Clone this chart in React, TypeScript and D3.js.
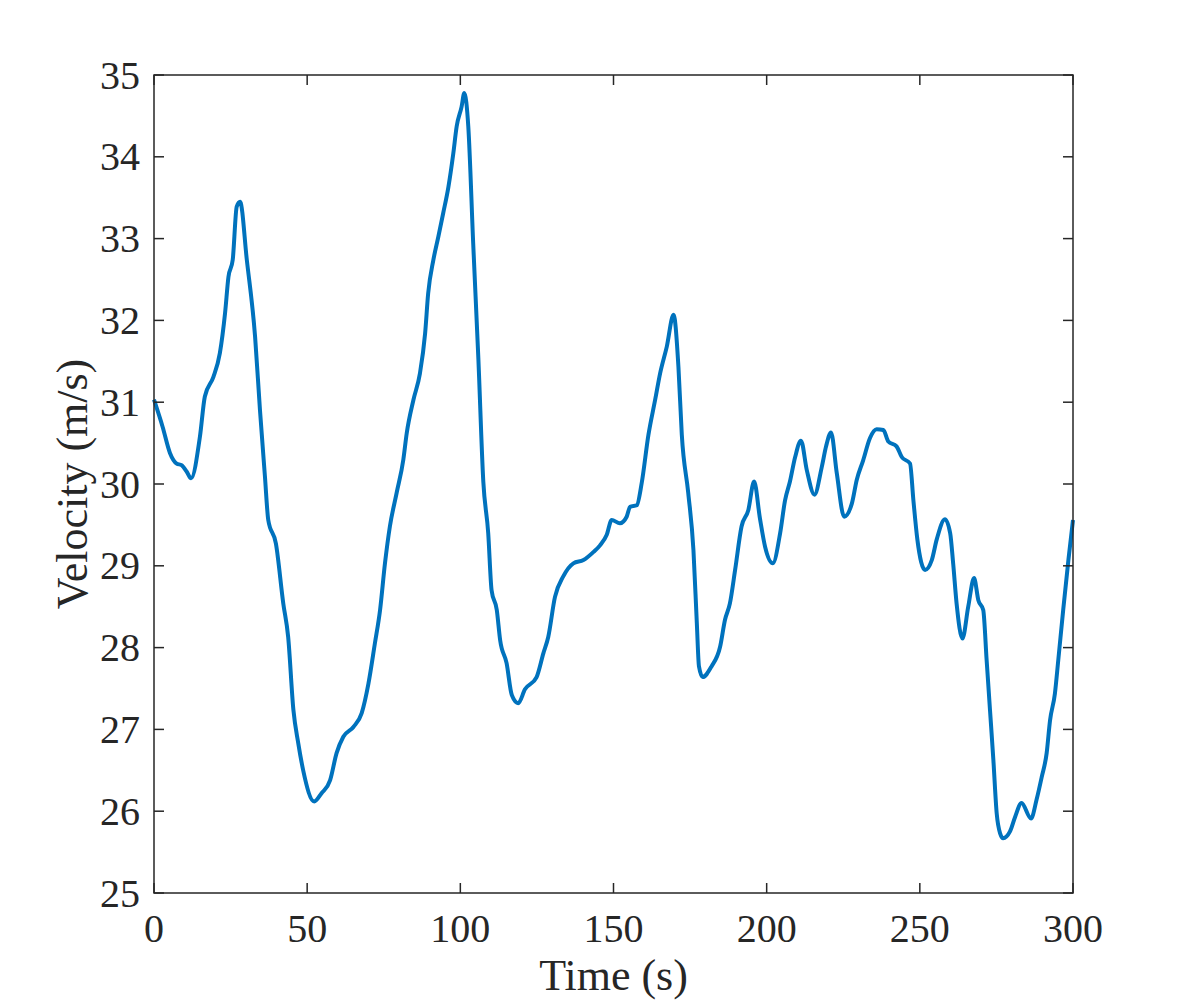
import React from "react";
import * as d3 from "d3";

const timeS: number[] = [
  0, 2.8, 5.2, 7.4, 9.0, 10.7, 12.1, 15.0, 16.6, 19.4, 21.5, 23.2, 24.3, 25.7, 27.0, 28.1,
  30.3, 33.0, 34.6, 36.2, 37.3, 39.8, 42.2, 43.8, 45.5, 47.1, 48.7, 52.3, 54.7, 57.5, 59.6,
  61.8, 65.1, 67.8, 70.0, 72.1, 73.8, 75.4, 77.0, 79.2, 81.4, 82.5, 84.7, 86.8, 88.5, 89.5,
  91.2, 92.8, 94.4, 96.1, 97.7, 98.8, 100.4, 101.3, 102.6, 104.2, 105.9, 107.5, 109.1, 110.2,
  111.9, 113.0, 115.1, 116.8, 118.9, 121.1, 124.9, 127.1, 128.7, 130.9, 133.6, 136.9, 140.2,
  143.5, 145.6, 147.8, 149.4, 152.1, 154.3, 155.4, 157.6, 159.2, 161.4, 163.6, 165.2, 167.4,
  169.6, 171.2, 172.3, 174.4, 176.1, 177.2, 177.9, 179.1, 182.0, 184.8, 186.4, 188.0, 189.7,
  191.8, 194.0, 195.9, 197.8, 199.5, 202.0, 204.4, 206.0, 207.6, 209.3, 211.2, 213.1, 215.6,
  218.0, 219.4, 221.0, 222.9, 225.3, 227.8, 229.4, 231.5, 233.7, 235.9, 238.1, 239.7, 242.4,
  244.1, 246.8, 247.9, 249.2, 251.7, 253.9, 255.5, 258.2, 259.9, 260.9, 262.0, 263.9, 265.8,
  267.7, 269.1, 270.7, 271.8, 272.9, 274.0, 275.1, 276.2, 277.2, 279.4, 281.1, 283.2, 286.3,
  288.1, 289.8, 291.4, 292.5, 294.1, 295.2, 296.8, 298.5, 300.0,
];

const velocity: number[] = [
  31.03, 30.7, 30.38, 30.25, 30.23, 30.15, 30.07, 30.58, 31.07, 31.31, 31.6, 32.09, 32.53, 32.74, 33.39, 33.45,
  32.74, 31.8, 30.9, 30.1, 29.56, 29.27, 28.54, 28.13, 27.24, 26.83, 26.5, 26.12, 26.22, 26.38, 26.71,
  26.91, 27.03, 27.2, 27.56, 28.05, 28.46, 29.03, 29.48, 29.89, 30.3, 30.62, 31.03, 31.35, 31.84, 32.33,
  32.74, 33.02, 33.31, 33.63, 34.04, 34.37, 34.61, 34.78, 34.37, 32.94, 31.52, 30.03, 29.4, 28.7,
  28.46, 28.09, 27.81, 27.42, 27.32, 27.49, 27.64, 27.93, 28.13, 28.62, 28.87, 29.03, 29.07,
  29.17, 29.25, 29.38, 29.56, 29.52, 29.6, 29.72, 29.74, 30.01, 30.6, 31.03, 31.35, 31.68,
  32.07, 31.43, 30.6, 29.89, 29.19, 28.3, 27.77, 27.64, 27.77, 28.01, 28.34, 28.54, 28.95,
  29.48, 29.68, 30.03, 29.58, 29.23, 29.03, 29.4, 29.8, 30.03, 30.33, 30.53, 30.17, 29.87,
  30.21, 30.46, 30.63, 30.13, 29.6, 29.76, 30.05, 30.29, 30.56, 30.67, 30.66, 30.52, 30.46,
  30.33, 30.25, 29.8, 29.32, 28.95, 29.07, 29.32, 29.57, 29.4, 29.02, 28.54, 28.11, 28.5,
  28.85, 28.58, 28.46, 27.85, 27.24, 26.63, 25.97, 25.73, 25.67, 25.75, 25.93, 26.1, 25.91,
  26.14, 26.42, 26.71, 27.11, 27.44, 27.85, 28.46, 29.07, 29.56,
];

const xTicks: number[] = [0, 50, 100, 150, 200, 250, 300];
const yTicks: number[] = [25, 26, 27, 28, 29, 30, 31, 32, 33, 34, 35];
const xLabel = "Time (s)";
const yLabel = "Velocity (m/s)";

export default function App() {
  const W = 1186, H = 1004;
  const left = 154, right = 1073, top = 75, bottom = 893;
  const x = d3.scaleLinear().domain([0, 300]).range([left, right]);
  const y = d3.scaleLinear().domain([25, 35]).range([bottom, top]);
  const pts = timeS.map((t, i) => [t, velocity[i]] as [number, number]);
  const line = d3.line<[number, number]>().x(d => x(d[0])).y(d => y(d[1])).curve(d3.curveMonotoneX);
  const axisColor = "#262626";
  const font = "'Liberation Serif', 'Times New Roman', serif";
  const tl = 10;
  return (
    <svg width={W} height={H} style={{ position: "absolute", left: 0, top: 0, background: "#fff" }}>
      <rect x={0} y={0} width={W} height={H} fill="#fff" />
      <path d={line(pts) || ""} fill="none" stroke="#0072BD" strokeWidth={4} strokeLinejoin="round" />
      <rect x={left} y={top} width={right - left} height={bottom - top} fill="none" stroke={axisColor} strokeWidth={1.5} />
      {xTicks.map(t => (
        <g key={"x" + t}>
          <line x1={x(t)} x2={x(t)} y1={bottom} y2={bottom - tl} stroke={axisColor} strokeWidth={1.5} />
          <line x1={x(t)} x2={x(t)} y1={top} y2={top + tl} stroke={axisColor} strokeWidth={1.5} />
          <text x={x(t)} y={942} textAnchor="middle" fontFamily={font} fontSize={40} fill={axisColor}>{t}</text>
        </g>
      ))}
      {yTicks.map(v => (
        <g key={"y" + v}>
          <line x1={left} x2={left + tl} y1={y(v)} y2={y(v)} stroke={axisColor} strokeWidth={1.5} />
          <line x1={right} x2={right - tl} y1={y(v)} y2={y(v)} stroke={axisColor} strokeWidth={1.5} />
          <text x={140} y={y(v) + 13.5} textAnchor="end" fontFamily={font} fontSize={40} fill={axisColor}>{v}</text>
        </g>
      ))}
      <text x={(left + right) / 2} y={990} textAnchor="middle" fontFamily={font} fontSize={44} fill={axisColor}>{xLabel}</text>
      <text transform={`translate(87, ${(top + bottom) / 2}) rotate(-90)`} textAnchor="middle" fontFamily={font} fontSize={44} fill={axisColor}>{yLabel}</text>
    </svg>
  );
}
